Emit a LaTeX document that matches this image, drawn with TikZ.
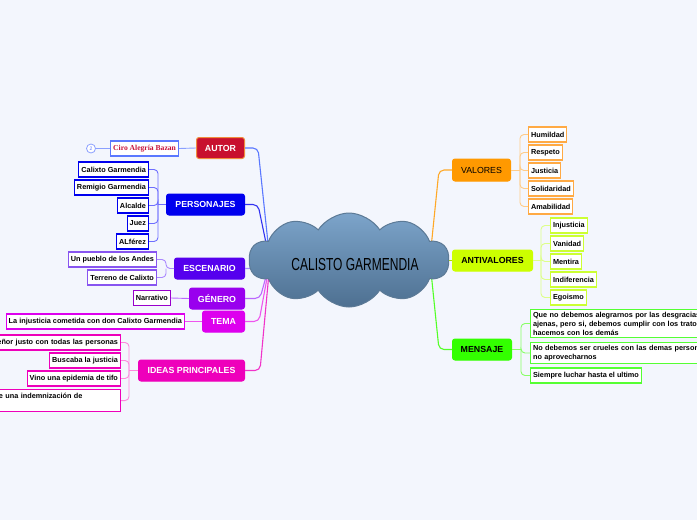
\documentclass[tikz,border=0pt]{standalone}
\usepackage{fontspec}
\setmainfont{Liberation Sans}
\newfontfamily\cirofont{Liberation Serif}
\usepackage{graphicx}
\usetikzlibrary{shapes.symbols,positioning}
\definecolor{pagebg}{RGB}{243,246,253}
\definecolor{cloudtop}{RGB}{124,164,202}
\definecolor{cloudbot}{RGB}{78,112,145}
\definecolor{cloudline}{RGB}{92,122,150}
\definecolor{autorred}{RGB}{200,16,46}
\definecolor{autorrim}{RGB}{240,140,60}
\definecolor{autorline}{RGB}{90,120,255}
\definecolor{cirored}{RGB}{200,20,60}
\definecolor{persblue}{RGB}{0,0,238}
\definecolor{persline}{RGB}{110,110,255}
\definecolor{escviolet}{RGB}{85,0,238}
\definecolor{escrim}{RGB}{136,85,240}
\definecolor{escline}{RGB}{170,136,255}
\definecolor{genpurple}{RGB}{153,0,238}
\definecolor{genrim}{RGB}{153,0,204}
\definecolor{genline}{RGB}{187,102,255}
\definecolor{temamag}{RGB}{221,0,238}
\definecolor{temaline}{RGB}{238,85,238}
\definecolor{ideaspink}{RGB}{238,0,187}
\definecolor{ideasline}{RGB}{255,136,221}
\definecolor{valorange}{RGB}{255,153,0}
\definecolor{valrim}{RGB}{255,170,68}
\definecolor{valline}{RGB}{255,204,136}
\definecolor{antilime}{RGB}{204,255,0}
\definecolor{antirim}{RGB}{204,255,51}
\definecolor{antiline}{RGB}{221,255,136}
\definecolor{mensgreen}{RGB}{51,255,0}
\definecolor{mensrim}{RGB}{85,255,51}
\definecolor{mensline}{RGB}{136,255,102}
\tikzset{
  topic/.style={rounded corners=2.5pt,line width=1pt,minimum height=21pt,
    inner sep=2pt,font=\fontsize{8.8}{10}\selectfont\bfseries,text=white},
  leaf/.style={draw,fill=white,line width=1.1pt,minimum height=15pt,
    inner sep=2.5pt,font=\fontsize{7.3}{9}\selectfont\bfseries,text=black},
  branch/.style={line width=1.1pt,rounded corners=5pt},
  twig/.style={line width=0.9pt,rounded corners=4pt}
}
\begin{document}
\begin{tikzpicture}[x=1pt,y=-1pt]
  \useasboundingbox (0,0) rectangle (697,520);
  \fill[pagebg] (0,0) rectangle (697,520);
  \clip (0,0) rectangle (697,520);

  % main topics, left
  \node[topic,fill=autorred,draw=autorrim,minimum width=48pt,anchor=east] (autor) at (245,148) {AUTOR};
  \node[topic,fill=persblue,draw=persblue,minimum width=78pt,anchor=east] (personajes) at (245,204.5) {PERSONAJES};
  \node[topic,fill=escviolet,draw=escviolet,minimum width=70pt,anchor=east] (escenario) at (245,268.5) {ESCENARIO};
  \node[topic,fill=genpurple,draw=genpurple,minimum width=55pt,anchor=east] (genero) at (245,298.5) {GÉNERO};
  \node[topic,fill=temamag,draw=temamag,minimum width=42pt,anchor=east] (tema) at (245,321.5) {TEMA};
  \node[topic,fill=ideaspink,draw=ideaspink,minimum width=106pt,anchor=east] (ideas) at (245,370.5) {IDEAS PRINCIPALES};
  % main topics, right
  \node[topic,fill=valorange,draw=valorange,minimum width=58pt,minimum height=22pt,anchor=west,
    text=black,font=\fontsize{8.8}{10}\selectfont] (valores) at (452,170) {VALORES};
  \node[topic,fill=antilime,draw=antilime,minimum width=80pt,anchor=west,text=black] (antivalores) at (452,260.5) {ANTIVALORES};
  \node[topic,fill=mensgreen,draw=mensgreen,minimum width=59pt,anchor=west,text=black] (mensaje) at (452,349.5) {MENSAJE};

  % branches to the cloud
  \draw[branch,autorline] (autor.east) -- (258,148) -- (270,262);
  \draw[branch,persblue!80!white] (personajes.east) -- (258,204.5) -- (270,262);
  \draw[branch,escline] (escenario.east) -- (261,268.5) -- (270,262);
  \draw[branch,genline] (genero.east) -- (260,298.5) -- (270,262);
  \draw[branch,temaline] (tema.east) -- (259,321.5) -- (270,262);
  \draw[branch,ideaspink!80!white] (ideas.east) -- (260,370.5) -- (270,262);
  \draw[branch,valorange!85!white] (valores.west) -- (439,170) -- (430,258);
  \draw[branch,antilime!85!black] (antivalores.west) -- (430,260.5);
  \draw[branch,mensgreen!85!white] (mensaje.west) -- (439,349.5) -- (430,262);

  % central idea
  \node[cloud,cloud puffs=10,cloud puff arc=115,cloud ignores aspect,minimum width=200pt,minimum height=94pt,
    inner sep=0pt,top color=cloudtop,bottom color=cloudbot,draw=cloudline,line width=1pt]
    (calisto) at (349,260) {};
  \node[font=\fontsize{12}{12}\selectfont] (calistotext) at (355,265) {\scalebox{1.0}[1.45]{CALISTO GARMENDIA}};

  % autor
  \node[leaf,draw=autorline,anchor=east,font=\fontsize{7.6}{9}\selectfont\cirofont\bfseries,text=cirored]
    (ciro) at (179,148.5) {Ciro Alegría Bazan};
  \node[circle,draw=autorline!70!white,fill=white,line width=0.8pt,inner sep=0pt,minimum size=9pt,
    font=\fontsize{5}{5}\selectfont,text=autorline] (nota) at (91,148.5) {2};
  \draw[line width=0.9pt,autorline!70!white] (autor.west) -- (ciro.east);
  \draw[line width=0.9pt,autorline!70!white] (nota.east) -- (ciro.west);

  % personajes
  \foreach \t [count=\i] in {Calixto Garmendia,Remigio Garmendia,Alcalde,Juez,ALférez}{
    \node[leaf,draw=persblue,anchor=east] (pers\i) at (149,151.5+18*\i) {\t};
    \draw[twig,persline] (158,204.5) |- (pers\i.east);
  }
  \draw[twig,persline] (personajes.west) -- (158,204.5);

  % escenario
  \node[leaf,draw=escrim,anchor=east] (esc1) at (157,259.5) {Un pueblo de los Andes};
  \node[leaf,draw=escrim,anchor=east] (esc2) at (157,277.5) {Terreno de Calixto};
  \draw[twig,escline] (escenario.west) -- (166,268.5) |- (esc1.east);
  \draw[twig,escline] (166,268.5) |- (esc2.east);

  % genero y tema
  \node[leaf,draw=genrim,anchor=east] (gen1) at (171,298) {Narrativo};
  \draw[twig,genline] (genero.west) -- (gen1.east);
  \node[leaf,draw=temamag,anchor=east] (tema1) at (185,321.5) {La injusticia cometida con don Calixto Garmendia};
  \draw[twig,temaline] (tema.west) -- (tema1.east);

  % ideas principales
  \node[leaf,draw=ideaspink,anchor=east,text width=150pt,align=right] (idea1) at (121,342.5) {señor justo con todas las personas};
  \node[leaf,draw=ideaspink,anchor=east] (idea2) at (121,360.5) {Buscaba la justicia};
  \node[leaf,draw=ideaspink,anchor=east] (idea3) at (121,378.5) {Vino una epidemia de tifo};
  \node[leaf,draw=ideaspink,anchor=north east,text width=119pt,align=left,minimum height=22pt]
    (idea4) at (121,389) {e una indemnización de\\\mbox{}};
  \foreach \i in {1,...,4}
    \draw[twig,ideasline] (129,370.5) |- (idea\i.east);
  \draw[twig,ideasline] (ideas.west) -- (129,370.5);

  % valores
  \foreach \t [count=\i] in {Humildad,Respeto,Justicia,Solidaridad,Amabilidad}{
    \node[leaf,draw=valrim,anchor=west] (val\i) at (528,116.5+18*\i) {\t};
    \draw[twig,valline] (520,170) |- (val\i.west);
  }
  \draw[twig,valline] (valores.east) -- (520,170);

  % antivalores
  \foreach \t [count=\i] in {Injusticia,Vanidad,Mentira,Indiferencia,Egoismo}{
    \node[leaf,draw=antirim,anchor=west] (anti\i) at (550,207.5+18*\i) {\t};
    \draw[twig,antiline] (541,260.5) |- (anti\i.west);
  }
  \draw[twig,antiline] (antivalores.east) -- (541,260.5);

  % mensaje
  \node[leaf,draw=mensrim,anchor=west,text width=190pt,align=left] (mens1) at (530,323.5)
    {Que no debemos alegrarnos por las desgracias\\ajenas, pero si, debemos cumplir con los tratos\\hacemos con los demás};
  \node[leaf,draw=mensrim,anchor=west,text width=190pt,align=left] (mens2) at (530,353)
    {No debemos ser crueles con las demas personas\\no aprovecharnos};
  \node[leaf,draw=mensrim,anchor=west] (mens3) at (530,375.5) {Siempre luchar hasta el ultimo};
  \foreach \i in {1,2,3}
    \draw[twig,mensline] (521,349.5) |- (mens\i.west);
  \draw[twig,mensline] (mensaje.east) -- (521,349.5);
\end{tikzpicture}
\end{document}
